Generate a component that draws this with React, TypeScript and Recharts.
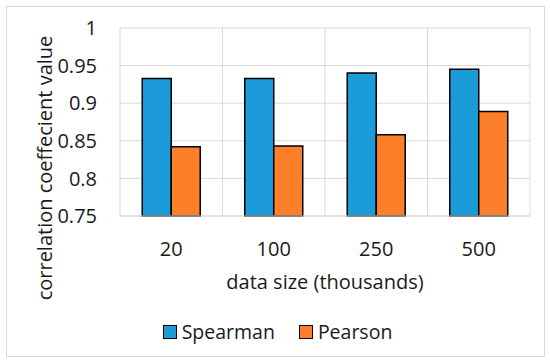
import React from "react";
import { BarChart, Bar, XAxis, YAxis, CartesianGrid, Legend, Label } from "recharts";

const categories = ["20", "100", "250", "500"];
const seriesNames = ["Spearman", "Pearson"];
const spearman = [0.933, 0.933, 0.94, 0.945];
const pearson = [0.842, 0.843, 0.858, 0.889];
const yTicks = [0.75, 0.8, 0.85, 0.9, 0.95, 1];

const data = categories.map((c, i) => ({ size: c, Spearman: spearman[i], Pearson: pearson[i] }));

const FONT = "'Open Sans', sans-serif";
const TEXT = "#1a1a1a";

const LegendContent = (props: any) => {
  const payload = [...(props.payload || [])].sort(
    (a: any, b: any) => seriesNames.indexOf(a.value) - seriesNames.indexOf(b.value)
  );
  return (
    <div style={{ display: "flex", justifyContent: "center", alignItems: "center", fontFamily: FONT, fontSize: 19.5, color: TEXT, paddingLeft: 5 }}>
      {payload.map((p: any, i: number) => (
        <div key={i} style={{ display: "flex", alignItems: "center", marginLeft: i === 0 ? 0 : 24 }}>
          <div style={{ width: 14, height: 14, boxSizing: "border-box", background: p.color, border: "1.5px solid #000", marginRight: 5 }} />
          <span>{p.value}</span>
        </div>
      ))}
    </div>
  );
};

export default function App() {
  return (
    <div style={{ position: "absolute", left: 0, top: 0, width: 550, height: 364, background: "#fff" }}>
      <div style={{ position: "absolute", left: 6, top: 6, width: 539, height: 351, border: "1px solid #d9d9d9", boxSizing: "border-box" }} />
      <div style={{ position: "absolute", left: 0, top: 0 }}>
        <BarChart
          width={550}
          height={364}
          data={data}
          margin={{ top: 28, right: 20, left: 0, bottom: 0 }}
          barCategoryGap="21.7%"
          barGap={0}
        >
          <CartesianGrid
            stroke="#d9d9d9"
            strokeWidth={1}
            verticalCoordinatesGenerator={({ offset }: any) =>
              [0, 1, 2, 3, 4].map((i) => offset.left + (i * offset.width) / categories.length)
            }
          />
          <XAxis
            dataKey="size"
            height={148}
            tickSize={0}
            tickMargin={26}
            axisLine={{ stroke: "#d9d9d9" }}
            tickLine={false}
            tick={{ fill: TEXT, fontSize: 20, fontFamily: FONT }}
          >
            <Label
              content={() => (
                <text x={325} y={281} textAnchor="middle" dominantBaseline="central" fill={TEXT} fontSize={20} fontFamily={FONT}>
                  data size (thousands)
                </text>
              )}
            />
          </XAxis>
          <YAxis
            width={120}
            domain={[0.75, 1]}
            ticks={yTicks}
            interval={0}
            tickSize={0}
            tickMargin={23}
            axisLine={false}
            tickLine={false}
            tick={{ fill: TEXT, fontSize: 20, fontFamily: FONT }}
          >
            <Label
              content={() => (
                <text transform="translate(44,168) rotate(-90)" textAnchor="middle" dominantBaseline="central" fill={TEXT} fontSize={20} fontFamily={FONT}>
                  correlation coeffecient value
                </text>
              )}
            />
          </YAxis>
          <Legend
            verticalAlign="middle"
            align="center"
            layout="horizontal"
            content={<LegendContent />}
            wrapperStyle={{ top: 318, left: 0, width: 550, height: 24 }}
          />
          <Bar dataKey="Spearman" fill="#1b9bd7" stroke="#000" strokeWidth={1.5} isAnimationActive={false} />
          <Bar dataKey="Pearson" fill="#fe7f2a" stroke="#000" strokeWidth={1.5} isAnimationActive={false} />
        </BarChart>
      </div>
    </div>
  );
}
